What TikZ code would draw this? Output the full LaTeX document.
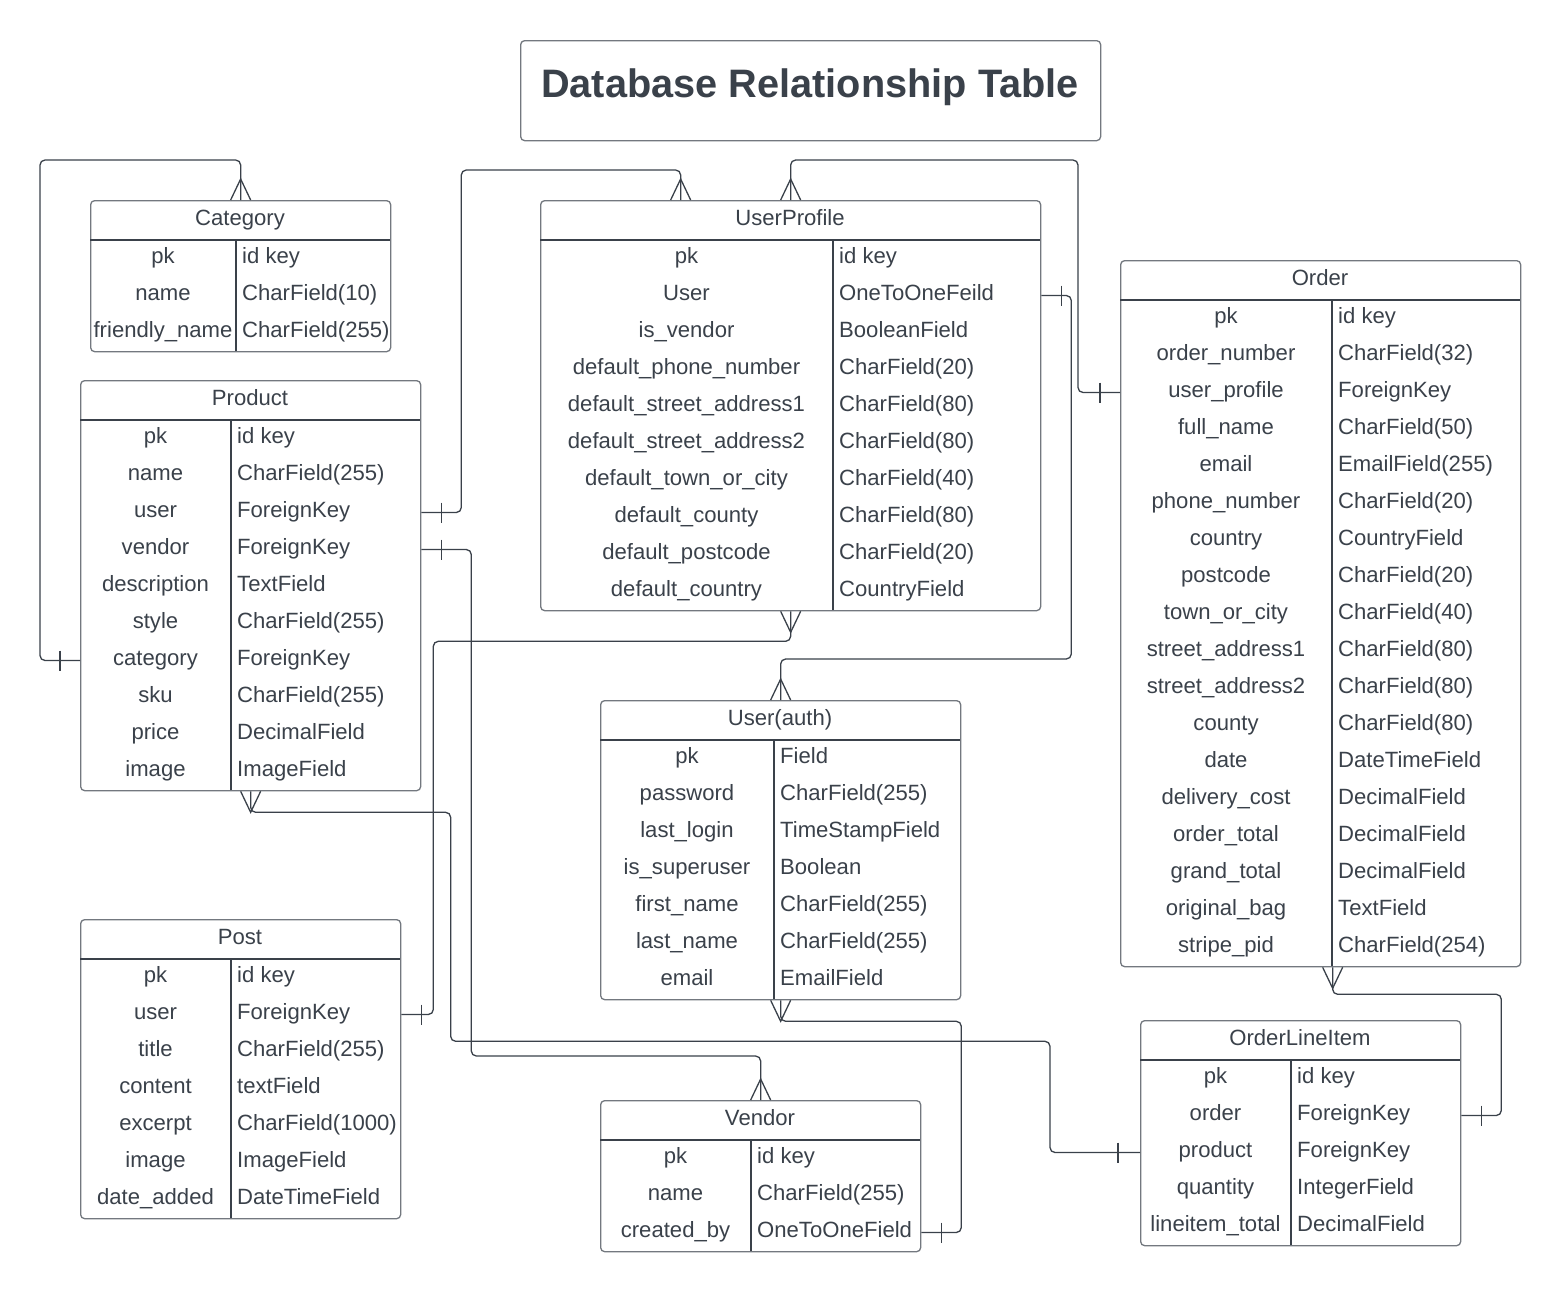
\documentclass[tikz,border=0pt]{standalone}
\usepackage{fontspec}
\setmainfont{Liberation Sans}
\usetikzlibrary{calc}
\definecolor{textcol}{RGB}{58,65,74}
\definecolor{linecol}{RGB}{58,65,74}
\definecolor{bordercol}{RGB}{115,120,127}
\tikzset{
  tbox/.style={draw=bordercol, line width=1.3pt, rounded corners=4pt, inner sep=0pt, fill=white},
  divline/.style={draw=linecol, line width=1.1pt},
  txt/.style={text=textcol, inner sep=0pt, font=\fontsize{22.1}{26}\selectfont},
  conn/.style={draw=linecol, line width=1.3pt, rounded corners=5pt},
  crowline/.style={draw=linecol, line width=1.3pt, sharp corners},
}
% #1 name, #2 left, #3 top, #4 right, #5 divider x, #6 rows, #7 title, #8 rows list
\newcommand\ertable[8]{%
  \pgfmathsetmacro\tabW{#4-#2}%
  \pgfmathsetmacro\tabH{40+37*#6}%
  \node[tbox, minimum width=\tabW pt, minimum height=\tabH pt, anchor=north west] (#1) at (#2,#3) {};
  \draw[divline] (#2,#3+40) -- (#4,#3+40);
  \draw[divline] (#5,#3+40) -- (#5,#3+\tabH);
  \node[txt, anchor=base] (#1-title) at ({(#2+#4)/2},#3+25) {#7};
  \foreach \a/\b [count=\i] in {#8} {
    \coordinate (#1-\i) at ({(#2+#4)/2},{#3+40+37*(\i-0.5)});
    \node[txt, anchor=base] (#1-k\i) at ({(#2+#5)/2},{#3+40+37*(\i-1)+23}) {\a};
    \node[txt, anchor=base west] (#1-v\i) at ({#5+6},{#3+40+37*(\i-1)+23}) {\b};
  }
}
\newcommand\crowup[1]{\draw[crowline] ([xshift=-10pt]#1) -- ([yshift=21pt]#1) -- ([xshift=10pt]#1);}
\newcommand\crowdown[1]{\draw[crowline] ([xshift=-10pt]#1) -- ([yshift=-21pt]#1) -- ([xshift=10pt]#1);}
\newcommand\barv[2]{\draw[crowline] ([xshift=#2,yshift=10pt]#1) -- ([xshift=#2,yshift=-10pt]#1);}
\begin{document}
\begin{tikzpicture}[x=1pt,y=-1pt]
\useasboundingbox[fill=white] (0,0) rectangle (1561,1291);

% title
\node[tbox, minimum width=580pt, minimum height=100pt, anchor=north west] (titlebox) at (520,40) {};
\node[txt, font=\bfseries\fontsize{39.7}{44}\selectfont, anchor=base] (title) at (810,97) {Database Relationship Table};

\ertable{cat}{90}{200}{390}{236}{3}{Category}{pk/id key, name/CharField(10), friendly\_name/CharField(255)}

\ertable{up}{540}{200}{1040}{833}{10}{UserProfile}{pk/id key, User/OneToOneFeild, is\_vendor/BooleanField, default\_phone\_number/CharField(20), default\_street\_address1/CharField(80), default\_street\_address2/CharField(80), default\_town\_or\_city/CharField(40), default\_county/CharField(80), default\_postcode/CharField(20), default\_country/CountryField}

\ertable{order}{1120}{260}{1520}{1332}{18}{Order}{pk/id key, order\_number/CharField(32), user\_profile/ForeignKey, full\_name/CharField(50), email/EmailField(255), phone\_number/CharField(20), country/CountryField, postcode/CharField(20), town\_or\_city/CharField(40), street\_address1/CharField(80), street\_address2/CharField(80), county/CharField(80), date/DateTimeField, delivery\_cost/DecimalField, order\_total/DecimalField, grand\_total/DecimalField, original\_bag/TextField, stripe\_pid/CharField(254)}

\ertable{prod}{80}{380}{420}{231}{10}{Product}{pk/id key, name/CharField(255), user/ForeignKey, vendor/ForeignKey, description/TextField, style/CharField(255), category/ForeignKey, sku/CharField(255), price/DecimalField, image/ImageField}

\ertable{auth}{600}{700}{960}{774}{7}{User(auth)}{pk/Field, password/CharField(255), last\_login/TimeStampField, is\_superuser/Boolean, first\_name/CharField(255), last\_name/CharField(255), email/EmailField}

\ertable{post}{80}{919}{400}{231}{7}{Post}{pk/id key, user/ForeignKey, title/CharField(255), content/textField, excerpt/CharField(1000), image/ImageField, date\_added/DateTimeField}

\ertable{vend}{600}{1100}{920}{751}{3}{Vendor}{pk/id key, name/CharField(255), created\_by/OneToOneField}

\ertable{oli}{1140}{1020}{1460}{1291}{5}{OrderLineItem}{pk/id key, order/ForeignKey, product/ForeignKey, quantity/IntegerField, lineitem\_total/DecimalField}

% connector anchors
\coordinate (c1) at (prod.west |- prod-7);
\coordinate (c2) at (prod.east |- prod-3);
\coordinate (c3) at (prod.east |- prod-4);
\coordinate (c4) at (post.east |- post-2);
\coordinate (c5) at (up.east |- up-2);
\coordinate (c6) at (order.west |- order-3);
\coordinate (c7) at (oli.west |- oli-3);
\coordinate (c8) at (vend.east |- vend-3);
\coordinate (c9) at (oli.east |- oli-2);
\coordinate (upA) at ([xshift=-110pt]up.north);
\coordinate (ordB) at ([xshift=12pt]order.south);

% 1 Product.category -> Category
\draw[conn] (c1) -- ++(-40,0) |- ([yshift=40pt]cat.north) -- (cat.north);
\crowup{cat.north}
\barv{c1}{-20pt}

% 2 Product.user -> UserProfile
\draw[conn] (c2) -- ++(40,0) |- ([yshift=30pt]upA) -- (upA);
\crowup{upA}
\barv{c2}{20pt}

% 3 Product.vendor -> Vendor
\draw[conn] (c3) -- ++(50,0) |- ([yshift=44pt]vend.north) -- (vend.north);
\crowup{vend.north}
\barv{c3}{20pt}

% 4 UserProfile -> Post.user
\draw[conn] (up.south) -- ++(0,30) -| ($(c4)+(32,0)$) -- (c4);
\crowdown{up.south}
\barv{c4}{20pt}

% 5 UserProfile.User -> User(auth)
\draw[conn] (c5) -- ++(30,0) |- ([yshift=41pt]auth.north) -- (auth.north);
\crowup{auth.north}
\barv{c5}{20pt}

% 6 Order.user_profile -> UserProfile
\draw[conn] (c6) -- ++(-42,0) |- ([yshift=40pt]up.north) -- (up.north);
\crowup{up.north}
\barv{c6}{-20pt}

% 7 Product -> OrderLineItem.product
\draw[conn] (prod.south) -- ++(0,21) -- ++(200,0) -- ++(0,229) -| ($(c7)+(-90,0)$) -- (c7);
\crowdown{prod.south}
\barv{c7}{-22pt}

% 8 User(auth) -> Vendor.created_by
\draw[conn] (auth.south) -- ++(0,21) -| ($(c8)+(40,0)$) -- (c8);
\crowdown{auth.south}
\barv{c8}{20pt}

% 9 Order -> OrderLineItem.order
\draw[conn] (ordB) -- ++(0,27) -| ($(c9)+(40,0)$) -- (c9);
\crowdown{ordB}
\barv{c9}{20pt}
\end{tikzpicture}
\end{document}
